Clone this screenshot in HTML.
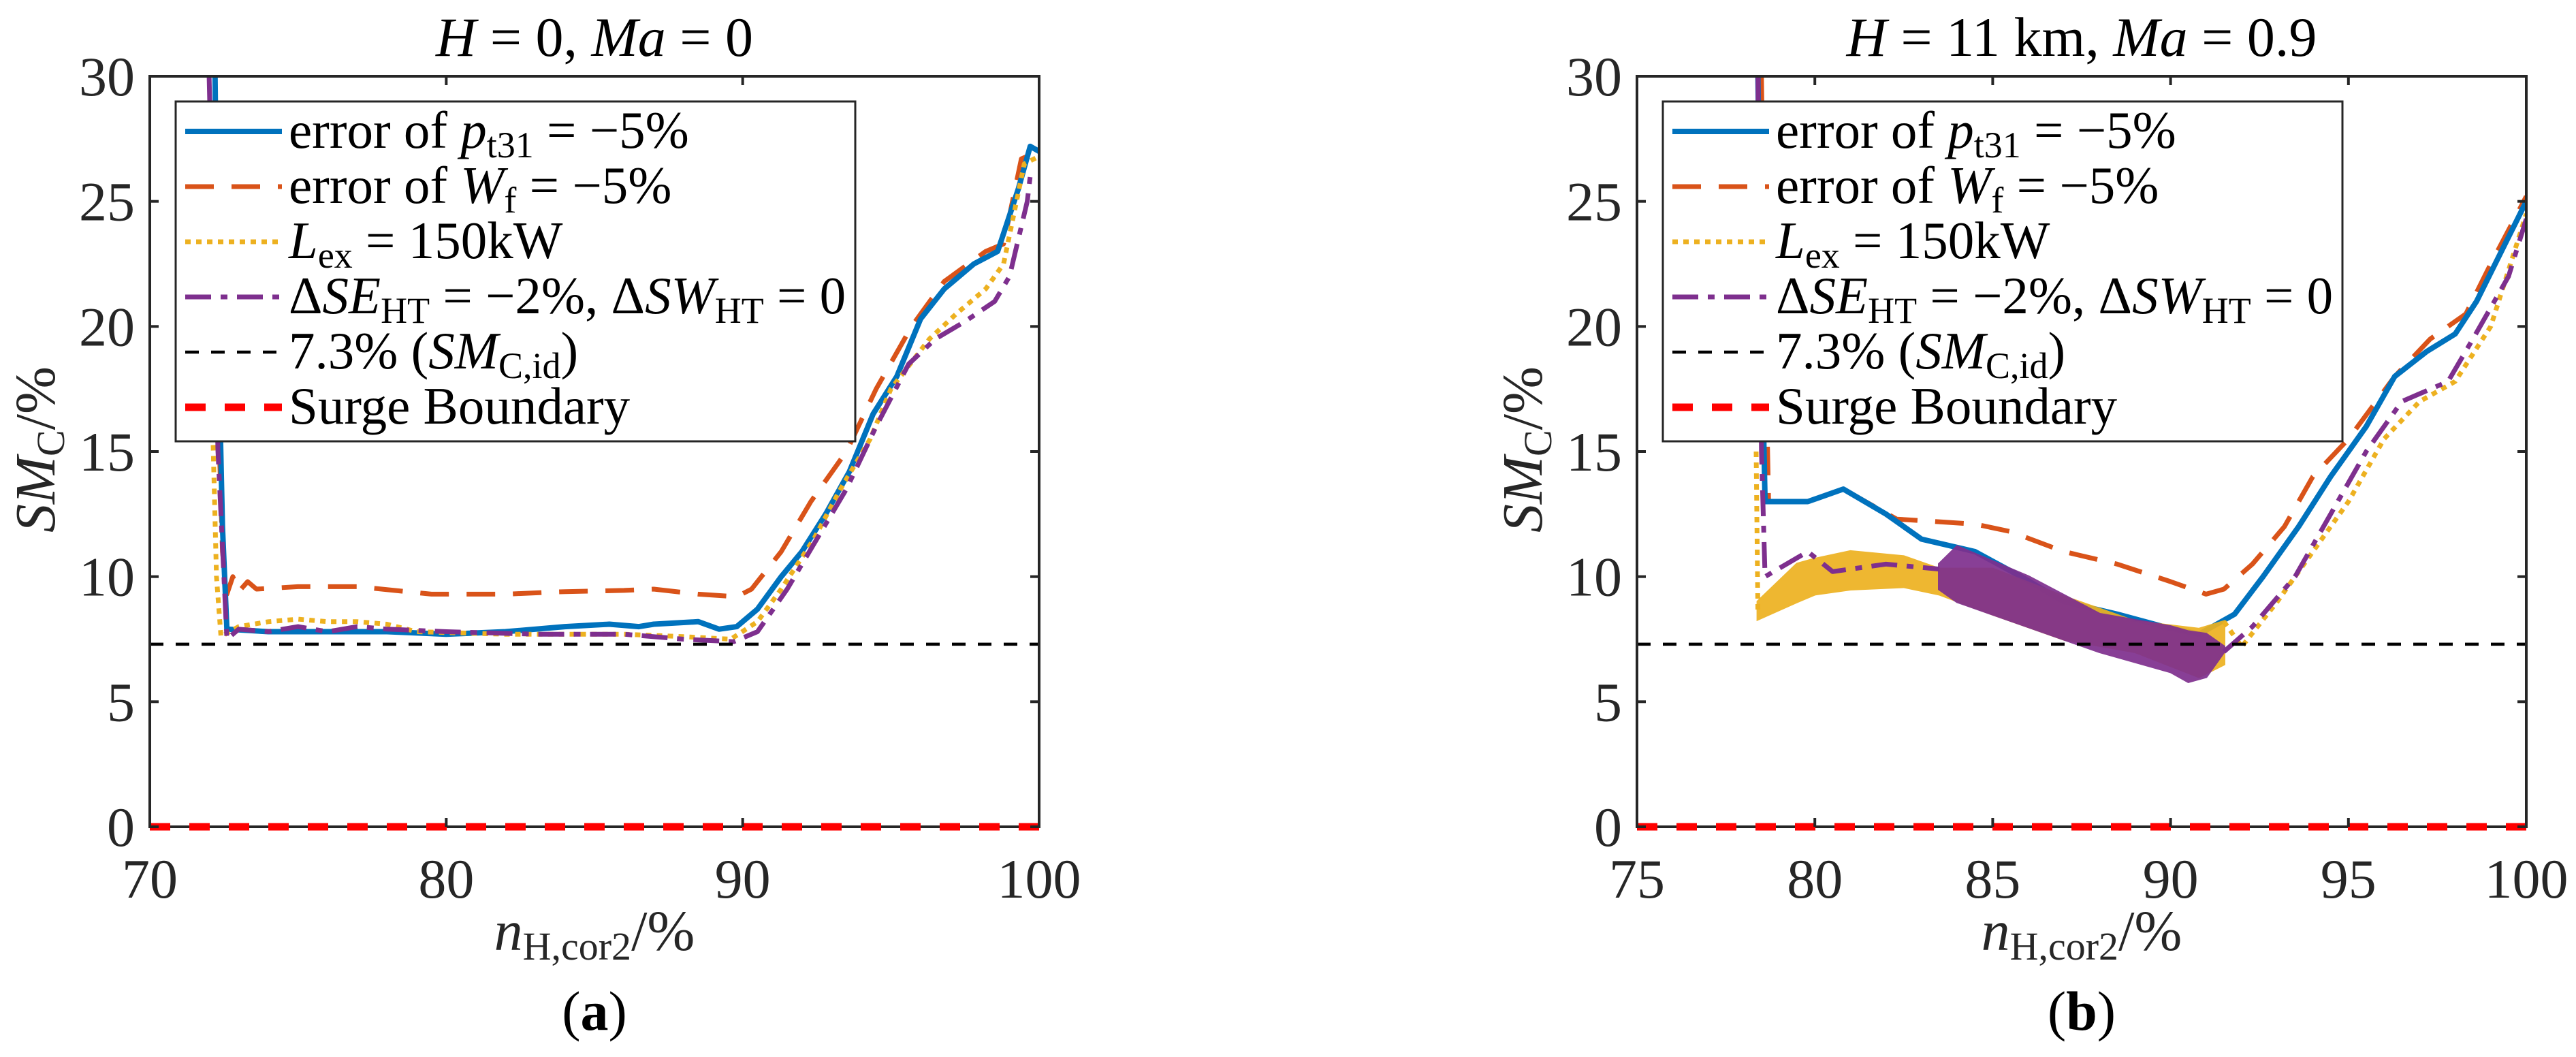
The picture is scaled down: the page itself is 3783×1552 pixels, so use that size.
<!DOCTYPE html>
<html><head><meta charset="utf-8"><style>
html,body{margin:0;padding:0;background:#fff}
svg, svg text{font-family:"Liberation Serif","DejaVu Serif",serif}
</style></head><body>
<svg id="fig" width="3783" height="1547" viewBox="0 0 3783 1547" xmlns="http://www.w3.org/2000/svg" font-family="Liberation Serif, DejaVu Serif, serif">
<defs>
<clipPath id="clipA"><rect x="220" y="112" width="1306" height="1102"/></clipPath>
<clipPath id="clipB"><rect x="2404" y="112" width="1306" height="1102"/></clipPath>
</defs>
</svg>
<script>
// ---------- data (a) ----------
const aBlueX=[72.2,72.3,72.45,72.6,74,76,78,80,82,84,85.5,86.5,87,88.5,89.2,89.8,90.5,91.3,92,92.8,93.6,94.4,95.2,96,96.8,97.8,98.6,99.3,99.7,100];
const aBlueY=[30,20,12,7.9,7.8,7.8,7.8,7.7,7.8,8.0,8.1,8.0,8.1,8.2,7.9,8.0,8.7,10,11,12.5,14.2,16.5,18,20.3,21.5,22.5,23,25.5,27.2,27];
const aOrX=[72.3,72.45,72.6,72.8,73,73.3,73.6,75,77,79.5,82,84,86,87,88.5,89.8,90.3,91.3,92.3,93.5,94.5,95.7,96.8,98.2,98.8,99.4,100];
const aOrY=[17,11,9.3,10,9.4,9.8,9.5,9.6,9.6,9.3,9.3,9.4,9.45,9.5,9.3,9.2,9.5,11,13,15,17.5,20,21.8,23,23.3,26.7,27];
const aYeX=[72.1,72.25,72.4,73,74,75,76,77,78,79,82,86,88,89.6,90.5,91.3,92.4,93.3,94.3,95,96.3,97.2,98.2,98.8,99.5,100];
const aYeY=[17,10,7.6,8.0,8.2,8.3,8.2,8.2,8.1,7.8,7.7,7.7,7.6,7.5,8.2,9.5,11.5,13.5,15.5,17.5,19.5,20.5,21.5,22.5,26.5,26.8];
const aPuX=[72.0,72.3,72.6,73,74,75,76,77,78,80,83,86,88,89.7,90.5,91.5,92.5,93.5,94.5,95.6,96.5,97.5,98.5,99,99.6,99.7];
const aPuY=[30,15,7.5,7.9,7.8,8.0,7.8,8.0,7.9,7.8,7.7,7.7,7.5,7.4,7.8,9.5,11.5,13.5,16,18.5,19.5,20.2,21,22,25,26];
// ---------- data (b) ----------
const bBlueX=[78.4,78.5,78.6,79.8,80.8,82,83,84.5,85.8,87,88.5,89.8,90.8,91.8,92.6,93.6,94.5,95.5,96.3,97.2,98,98.6,99.3,100];
const bBlueY=[30,20,13,13,13.5,12.5,11.5,11,10,9,8.5,8,7.7,8.5,10,12,14,16,18,19,19.7,21,23,25];
const bOrX=[78.5,78.6,78.7,79.8,80.8,82.3,84.5,85.5,87,88.5,90,91,91.5,92.3,93.2,94,95,96.3,97.3,98.3,99,100];
const bOrY=[30,20,13,13,13.5,12.3,12.1,11.8,11,10.5,9.8,9.3,9.5,10.5,12,14,15.5,18,19.5,20.5,22.5,25.2];
const bYeBandX=[78.4,79.5,80,81,82.5,83.5,85,87,89,90.8,91.5];
const bYeBandHi=[9.0,10.5,10.7,11.0,10.8,10.3,10.3,9.2,8.2,7.9,8.2];
const bYeBandLo=[8.3,9.0,9.3,9.5,9.6,9.3,8.5,7.5,7.0,6.0,6.5];
const bYeX1=[78.35,78.4];
const bYeY1=[15,8.5];
const bYeX=[91.5,92,93,94,95,96,97,98,99,100];
const bYeY=[8.2,7.2,9,11,13,15.5,17,17.8,20,24.5];
const bPuX=[78.4,78.5,78.6,79.8,80.5,82,83.5];
const bPuY=[30,15,10,11,10.2,10.5,10.3];
const bPuBandX=[83.5,84,86,88,90,90.5,91,91.5];
const bPuBandHi=[10.5,11.2,10.0,8.5,8.0,7.8,7.7,7.2];
const bPuBandLo=[9.5,9.0,8.0,7.0,6.2,5.8,6.0,7.0];
const bPuX2=[91.5,92.3,93.5,94.5,95.5,96.5,97.8,98.5,99.5,100];
const bPuY2=[7.0,8,10,12.5,15,17,17.8,19.5,22,24.3];
const yTicks=[0,5,10,15,20,25,30];
const aXTicks=[70,80,90,100];
const bXTicks=[75,80,85,90,95,100];
const refLevel=[7.3];
const surgeLevel=[0];

const NS="http://www.w3.org/2000/svg";
const svg=document.getElementById('fig');
const Y0=1214,Y1=112;
const FF='Liberation Serif, DejaVu Serif, serif';
function mk(tag,attrs,parent){const e=document.createElementNS(NS,tag);for(const k in attrs)e.setAttribute(k,attrs[k]);if(tag==='text')e.setAttribute('font-family',FF);(parent||svg).appendChild(e);return e;}
const COL={blue:'#0072BD',or:'#D95319',ye:'#EDB120',pu:'#7E2F8E'};
const STY={
 blue:{stroke:COL.blue,w:8,dash:''},
 or:{stroke:COL.or,w:7,dash:'42 26'},
 ye:{stroke:COL.ye,w:7,dash:'8 8'},
 pu:{stroke:COL.pu,w:7,dash:'38 14 10 14'},
 blk:{stroke:'#000',w:4.5,dash:'20 18'},
 red:{stroke:'#FF0000',w:11,dash:'30 28'}
};

function chart(o){
 const sx=v=>o.x0+(v-o.xmin)/(o.xmax-o.xmin)*1306;
 const sy=v=>Y0-v/30*(Y0-Y1);
 const g=mk('g',{});
 
 
 const plot=mk('g',{'clip-path':'url(#'+o.clip+')'},g);
 
 
 function line(xs,ys,st,name){
  const p=mk('path',{d:xs.map((x,i)=>(i?'L':'M')+sx(x).toFixed(1)+' '+sy(ys[i]).toFixed(1)).join(''),fill:'none',stroke:st.stroke,'stroke-width':st.w,'stroke-dasharray':st.dash,'stroke-linejoin':'round'},plot);
  
  
 }
 function band(xs,hi,lo,color,name){
  const d=xs.map((x,i)=>(i?'L':'M')+sx(x).toFixed(1)+' '+sy(hi[i]).toFixed(1)).join('')+xs.slice().reverse().map((x,i)=>'L'+sx(x).toFixed(1)+' '+sy(lo[xs.length-1-i]).toFixed(1)).join('')+'Z';
  const p=mk('path',{d:d,fill:color,stroke:color,'stroke-width':4,opacity:0.92},plot);
  
  
 }
 o.draw(line,band);
 const rl=mk('line',{x1:sx(o.xmin),x2:sx(o.xmax),y1:sy(refLevel[0]),y2:sy(refLevel[0]),stroke:'#000','stroke-width':4.5,'stroke-dasharray':'20 18'},plot);
 
 
 const box=mk('rect',{x:o.x0,y:Y1,width:1306,height:Y0-Y1,fill:'none',stroke:'#262626','stroke-width':4},g);
 
 
 const sl=mk('line',{x1:sx(o.xmin),x2:sx(o.xmax),y1:sy(surgeLevel[0]),y2:sy(surgeLevel[0]),stroke:'#FF0000','stroke-width':11,'stroke-dasharray':'30 28'},g);
 
 
 yTicks.forEach(t=>{
  const y=sy(t);
  mk('line',{x1:o.x0,x2:o.x0+13,y1:y,y2:y,stroke:'#262626','stroke-width':4},g);
  mk('line',{x1:o.x0+1306-13,x2:o.x0+1306,y1:y,y2:y,stroke:'#262626','stroke-width':4},g);
  const tx=mk('text',{x:o.x0-22,y:y+28,'text-anchor':'end','font-size':82,fill:'#262626'},g);
  tx.textContent=t;
  
  
 });
 o.xt.forEach(t=>{
  const x=sx(t);
  mk('line',{x1:x,x2:x,y1:Y0,y2:Y0-13,stroke:'#262626','stroke-width':4},g);
  mk('line',{x1:x,x2:x,y1:Y1,y2:Y1+13,stroke:'#262626','stroke-width':4},g);
  const tx=mk('text',{x:x,y:Y0+104,'text-anchor':'middle','font-size':82,fill:'#262626'},g);
  tx.textContent=t;
  
  
 });
 const cx=o.x0+653;
 const ti=mk('text',{x:cx,y:82,'text-anchor':'middle','font-size':82,fill:'#000'},g);
 ti.innerHTML=o.title;
 
 
 const xl=mk('text',{x:cx,y:1395,'text-anchor':'middle','font-size':84,fill:'#262626'},g);
 xl.innerHTML='<tspan font-style="italic">n</tspan><tspan font-size="58" dy="14">H,cor2</tspan><tspan dy="-14">/%</tspan>';
 
 
 const yl=mk('text',{x:0,y:0,'text-anchor':'middle','font-size':84,fill:'#262626',transform:'translate('+(o.x0-140)+',660) rotate(-90)'},g);
 yl.innerHTML='<tspan font-style="italic">SM</tspan><tspan font-size="58" dy="14">C</tspan><tspan dy="-14">/%</tspan>';
 
 
 const cap=mk('text',{x:cx,y:1512,'text-anchor':'middle','font-size':82,fill:'#000'},g);
 cap.innerHTML='(<tspan font-weight="bold">'+o.cap+'</tspan>)';
 
 
 const L=mk('g',{},g);
 
 
 mk('rect',{x:o.lx,y:149,width:o.lw,height:499,fill:'#fff',stroke:'#262626','stroke-width':3},L);
 const labels=[
  'error of <tspan font-style="italic">p</tspan><tspan font-size="54" dy="14">t31</tspan><tspan dy="-14"> = −5%</tspan>',
  'error of <tspan font-style="italic">W</tspan><tspan font-size="54" dy="14">f</tspan><tspan dy="-14"> = −5%</tspan>',
  '<tspan font-style="italic">L</tspan><tspan font-size="54" dy="14">ex</tspan><tspan dy="-14"> = 150kW</tspan>',
  'Δ<tspan font-style="italic">SE</tspan><tspan font-size="54" dy="14">HT</tspan><tspan dy="-14"> = −2%, Δ</tspan><tspan font-style="italic">SW</tspan><tspan font-size="54" dy="14">HT</tspan><tspan dy="-14"> = 0</tspan>',
  '7.3% (<tspan font-style="italic">SM</tspan><tspan font-size="54" dy="14">C,id</tspan><tspan dy="-14">)</tspan>',
  'Surge Boundary'];
 const keys=['blue','or','ye','pu','blk','red'];
 const names=['legend-entry-pt31','legend-entry-wf','legend-entry-lex','legend-entry-se-ht','legend-entry-reference','legend-entry-surge'];
 keys.forEach((k,i)=>{
  const y=193+i*81;
  const e=mk('g',{},L);
  
  
  const st=STY[k];
  mk('line',{x1:o.lx+14,x2:o.lx+156,y1:y,y2:y,stroke:st.stroke,'stroke-width':st.w,'stroke-dasharray':st.dash},e);
  const t=mk('text',{x:o.lx+166,y:y+24,'font-size':77,fill:'#000'},e);
  t.innerHTML=labels[i];
 });
}

chart({name:'chart-a',x0:220,xmin:70,xmax:100,xt:aXTicks,clip:'clipA',lx:258,lw:998,cap:'a',
 title:'<tspan font-style="italic">H</tspan> = 0, <tspan font-style="italic">Ma</tspan> = 0',
 draw:(line,band)=>{
  line(aOrX,aOrY,STY.or,'series-wf-error');
  line(aBlueX,aBlueY,STY.blue,'series-pt31-error');
  line(aYeX,aYeY,STY.ye,'series-lex');
  line(aPuX,aPuY,STY.pu,'series-se-ht');
 }});
chart({name:'chart-b',x0:2404,xmin:75,xmax:100,xt:bXTicks,clip:'clipB',lx:2442,lw:998,cap:'b',
 title:'<tspan font-style="italic">H</tspan> = 11 km, <tspan font-style="italic">Ma</tspan> = 0.9',
 draw:(line,band)=>{
  line(bOrX,bOrY,STY.or,'series-wf-error');
  line(bBlueX,bBlueY,STY.blue,'series-pt31-error');
  band(bYeBandX,bYeBandHi,bYeBandLo,COL.ye,'series-lex-band');
  line(bYeX1,bYeY1,STY.ye,'series-lex-start');
  line(bYeX,bYeY,STY.ye,'series-lex');
  line(bPuX,bPuY,STY.pu,'series-se-ht');
  band(bPuBandX,bPuBandHi,bPuBandLo,COL.pu,'series-se-ht-band');
  line(bPuX2,bPuY2,STY.pu,'series-se-ht-high');
 }});
</script>
</body></html>
